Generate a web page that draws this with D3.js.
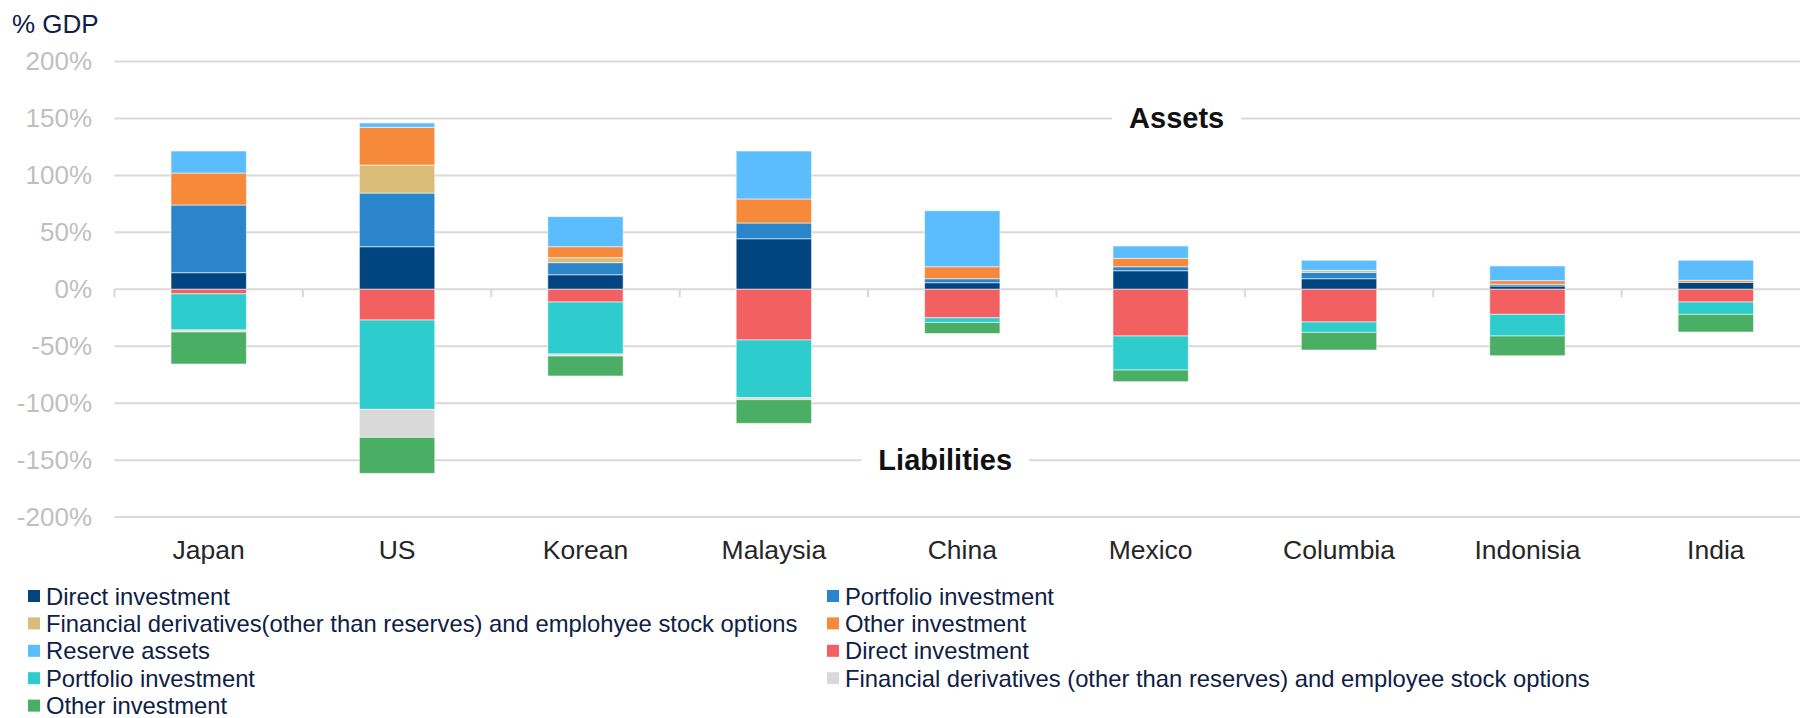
<!DOCTYPE html>
<html>
<head>
<meta charset="utf-8">
<script src="https://cdn.jsdelivr.net/npm/d3@7"></script>
<style>
  html, body { margin: 0; padding: 0; background: #fff; }
  svg { display: block; font-family: "Liberation Sans", Arial, sans-serif; }
</style>
</head>
<body>
<svg id="chart" width="1800" height="718"></svg>
<script>
// External assets and liabilities by component, % of GDP
const categories = ["Japan", "US", "Korean", "Malaysia", "China", "Mexico", "Columbia", "Indonisia", "India"];

// Assets (stacked upward)
const directAssets    = [14.6, 37.4, 12.8, 44.4, 5.8, 16.3, 9.3, 2.9, 6.1];
const portfolioAssets = [59.4, 47.1, 10.6, 13.8, 3.5, 3.5, 5.6, 1.5, 0];
const derivAssets     = [0, 24.6, 4.4, 0, 0, 0, 1.8, 0, 0];
const otherAssets     = [28.1, 33.1, 9.6, 21.1, 10.5, 7.4, 0, 3.2, 1.8];
const reserveAssets   = [19.3, 3.8, 26.4, 42.1, 49.2, 10.8, 8.8, 12.9, 17.6];

// Liabilities (stacked downward)
const directLiab    = [-4.0, -27.0, -11.2, -44.5, -25.0, -41.0, -28.7, -22.0, -11.2];
const portfolioLiab = [-31.7, -78.4, -45.6, -50.6, -4.1, -29.9, -9.1, -19.0, -10.8];
const derivLiab     = [-1.8, -24.6, -1.8, -1.8, 0, 0, 0, 0, 0];
const otherLiab     = [-28.1, -31.6, -17.5, -20.8, -9.7, -10.2, -15.5, -17.3, -15.5];

const yTicks = [-200, -150, -100, -50, 0, 50, 100, 150, 200];

const seriesNames = [
  "Direct investment",
  "Portfolio investment",
  "Financial derivatives(other than reserves) and emplohyee stock options",
  "Other investment",
  "Reserve assets",
  "Direct investment",
  "Portfolio investment",
  "Financial derivatives (other than reserves) and employee stock options",
  "Other investment"
];
const seriesValues = [directAssets, portfolioAssets, derivAssets, otherAssets, reserveAssets,
                      directLiab, portfolioLiab, derivLiab, otherLiab];
const seriesColors = ["#00457F", "#2A85CA", "#D8BC77", "#F68A3A", "#5BBDFE",
                      "#F26062", "#2ECCCD", "#D9D9D9", "#4AAE64"];

const svg = d3.select("#chart");

const x = d3.scaleBand()
  .domain(categories)
  .range([114.5, 1810])
  .paddingInner(0.6)
  .paddingOuter(0.3);

const y = d3.scaleLinear()
  .domain([-200, 200])
  .range([517.1, 61.5]);

const gridColor = "#D9D9D9";

// Horizontal gridlines
svg.append("g")
  .selectAll("line")
  .data(yTicks)
  .join("line")
  .attr("x1", x.range()[0])
  .attr("x2", x.range()[1])
  .attr("y1", d => y(d))
  .attr("y2", d => y(d))
  .attr("stroke", gridColor)
  .attr("stroke-width", 2);

// Y axis labels
const yAxis = d3.axisLeft(y)
  .tickValues(yTicks)
  .tickSize(0)
  .tickPadding(0)
  .tickFormat(d => d + "%");
const yG = svg.append("g")
  .attr("transform", "translate(92,0)")
  .call(yAxis);
yG.select(".domain").remove();
yG.selectAll("text")
  .attr("font-size", 26)
  .attr("font-family", "'Liberation Sans', Arial, sans-serif")
  .attr("fill", "#BFBFBF");

// Category tick marks on the zero line
const boundaries = categories.map(c => x(c) + x.bandwidth() / 2 - x.step() / 2);
svg.append("g")
  .selectAll("line")
  .data(boundaries)
  .join("line")
  .attr("x1", d => d)
  .attr("x2", d => d)
  .attr("y1", y(0))
  .attr("y2", y(0) + 8)
  .attr("stroke", gridColor)
  .attr("stroke-width", 2);

// Stacked bars (diverging)
const table = categories.map((c, i) => {
  const row = { cat: c };
  seriesValues.forEach((vals, k) => { row["s" + k] = vals[i]; });
  return row;
});
const keys = seriesValues.map((_, k) => "s" + k);
const stacked = d3.stack().keys(keys).offset(d3.stackOffsetDiverging)(table);

svg.append("g")
  .selectAll("g")
  .data(stacked)
  .join("g")
  .attr("fill", (d, k) => seriesColors[k])
  .selectAll("rect")
  .data(d => d.filter(p => p[1] !== p[0]))
  .join("rect")
  .attr("x", d => x(d.data.cat))
  .attr("width", x.bandwidth())
  .attr("y", d => y(Math.max(d[0], d[1])))
  .attr("height", d => Math.abs(y(d[0]) - y(d[1])))
  .attr("stroke", "rgba(255,255,255,0.55)")
  .attr("stroke-width", 1);

// X axis labels
const xAxis = d3.axisBottom(x).tickSize(0).tickPadding(0);
const xG = svg.append("g")
  .attr("transform", "translate(0,540)")
  .call(xAxis);
xG.select(".domain").remove();
xG.selectAll("text")
  .attr("font-size", 26.5)
  .attr("font-family", "'Liberation Sans', Arial, sans-serif")
  .attr("fill", "#262626");

// Section labels sitting on the ±150% gridlines
const annotations = [
  { text: "Assets", value: 150, cx: x("Mexico") + x.bandwidth() / 2 + 26 },
  { text: "Liabilities", value: -150, cx: x("China") + x.bandwidth() / 2 - 17 }
];
annotations.forEach(a => {
  const t = svg.append("text")
    .attr("x", a.cx)
    .attr("y", y(a.value))
    .attr("text-anchor", "middle")
    .attr("dominant-baseline", "central")
    .attr("font-size", 29)
    .attr("font-weight", "bold")
    .attr("fill", "#111111")
    .text(a.text);
  const bb = t.node().getBBox();
  svg.insert("rect", () => t.node())
    .attr("x", bb.x - 17)
    .attr("y", y(a.value) - 4)
    .attr("width", bb.width + 34)
    .attr("height", 8)
    .attr("fill", "#fff");
});

// Unit label
svg.append("text")
  .attr("x", 12)
  .attr("y", 33)
  .attr("font-size", 26)
  .attr("fill", "#0E2045")
  .text("% GDP");

// Legend: two columns, row-major
const legend = svg.append("g");
const colX = [28, 827];
const rowY0 = 596, rowH = 27.4;
seriesNames.forEach((name, k) => {
  const col = k % 2, row = Math.floor(k / 2);
  const g = legend.append("g")
    .attr("transform", `translate(${colX[col]},${rowY0 + row * rowH})`);
  g.append("rect")
    .attr("x", 0).attr("y", -6)
    .attr("width", 12).attr("height", 12)
    .attr("fill", seriesColors[k]);
  g.append("text")
    .attr("x", 18)
    .attr("y", 0)
    .attr("dominant-baseline", "central")
    .attr("font-size", 23.8)
    .attr("fill", "#0E2045")
    .text(name);
});
</script>
</body>
</html>
